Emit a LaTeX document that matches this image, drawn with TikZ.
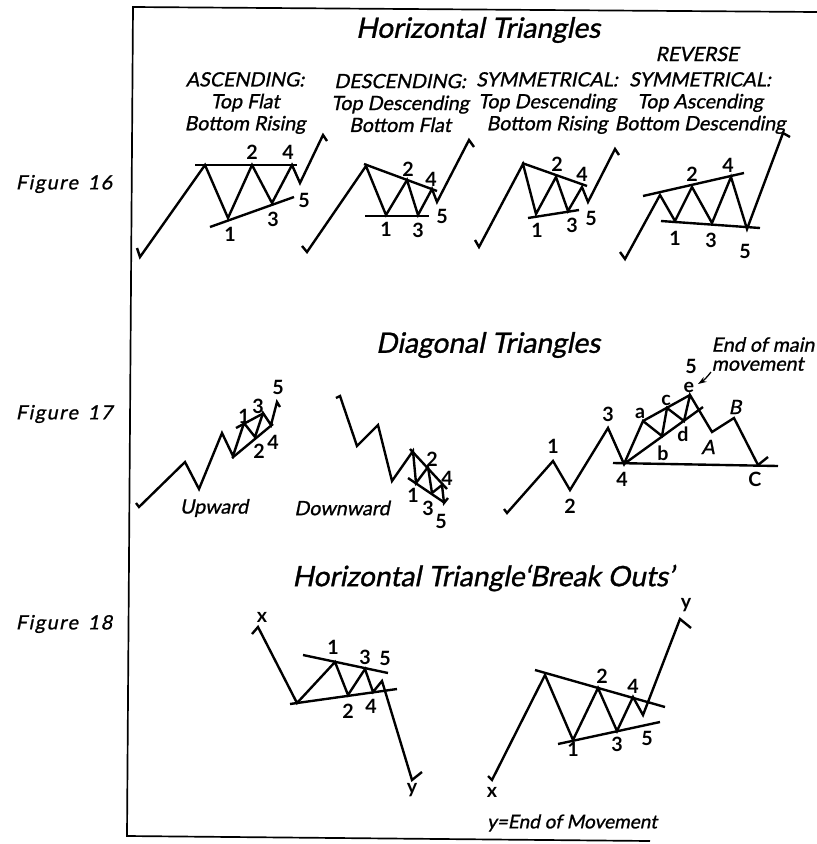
\documentclass[tikz,border=0pt]{standalone}
\usepackage{fontspec}
\newfontfamily\futfont[FakeSlant=0.2,FakeBold=1]{Lato}
\newfontfamily\labfont{Lato}
\newfontfamily\figfont[FakeSlant=0.2,FakeBold=1,LetterSpace=8]{Lato}
\usetikzlibrary{arrows.meta}

\tikzset{
  wave/.style={line width=1.7pt,line join=miter},
  trend/.style={line width=1.7pt},
  num/.style={font=\labfont\bfseries\fontsize{14}{14}\selectfont,inner sep=0pt},
  head/.style={font=\futfont\fontsize{14}{15.6}\selectfont,align=center,inner sep=0pt},
  title/.style={font=\futfont\fontsize{20}{20}\selectfont,inner sep=0pt},
  figlab/.style={font=\figfont\fontsize{14}{14}\selectfont,inner sep=0pt},
}

\begin{document}
\begin{tikzpicture}[x=0.025cm,y=-0.025cm,>=Stealth]
\useasboundingbox (0,0) rectangle (817,844);
\draw[line width=1.2pt] (817,12) -- (133,7) -- (127,836) -- (650,841);

\node[figlab] (f16) at (64,184) {Figure\enspace 16};
\node[figlab] (f17) at (64,414) {Figure\enspace 17};
\node[figlab] (f18) at (64,624) {Figure\enspace 18};

% figure 16
\node[title] (t16) at (478,30) {Horizontal Triangles};
\node[head] (h1) at (245,103) {ASCENDING:\\Top Flat\\Bottom Rising};
\node[head] (h2) at (400,103) {DESCENDING:\\Top Descending\\Bottom Flat};
\node[head] (h3) at (547,103) {SYMMETRICAL:\\Top Descending\\Bottom Rising};
\node[head] (h4a) at (697,54) {REVERSE};
\node[head] (h4) at (700,103) {SYMMETRICAL:\\Top Ascending\\Bottom Descending};

\draw[wave] (137,248) -- (140,257) -- (205,165) -- (228,218) -- (252,165) -- (272,203) -- (292,165) -- (300,183) -- (323,135) -- (327,141);
\draw[trend] (195,165) -- (297,165);
\draw[trend] (210,227) -- (294,197);
\node[num] (a1) at (230,234) {1}; \node[num] (a2) at (252,152) {2};
\node[num] (a3) at (273,219) {3}; \node[num] (a4) at (288,152) {4};
\node[num] (a5) at (304,200) {5};

\draw[wave] (302,246) -- (307,252) -- (366,166) -- (386,215) -- (407,180) -- (418,215) -- (432,189) -- (437,202) -- (469,140) -- (474,147);
\draw[trend] (364,164) -- (437,191);
\draw[trend] (365,216) -- (429,216);
\node[num] (d1) at (386,229) {1}; \node[num] (d2) at (408,169) {2};
\node[num] (d3) at (418,230) {3}; \node[num] (d4) at (431,179) {4};
\node[num] (d5) at (442,216) {5};

\draw[wave] (475,240) -- (479,247) -- (523,164) -- (536,214) -- (556,177) -- (568,211) -- (582,187) -- (588,202) -- (615,149) -- (619,155);
\draw[trend] (522,163) -- (587,186);
\draw[trend] (528,218) -- (579,210);
\node[num] (s1) at (537,230) {1}; \node[num] (s2) at (557,164) {2};
\node[num] (s3) at (572,225) {3}; \node[num] (s4) at (582,174) {4};
\node[num] (s5) at (591,218) {5};

\draw[wave] (620,252) -- (625,259) -- (660,195) -- (675,221) -- (692,187) -- (712,223) -- (731,177) -- (747,229) -- (783,133) -- (790,137);
\draw[trend] (643,196) -- (744,173);
\draw[trend] (661,221) -- (760,228);
\node[num] (r1) at (675,238) {1}; \node[num] (r2) at (692,174) {2};
\node[num] (r3) at (711,240) {3}; \node[num] (r4) at (728,165) {4};
\node[num] (r5) at (745,251) {5};

% figure 17
\node[title] (t17) at (488,345) {Diagonal Triangles};

\draw[wave] (136,503) -- (139,507) -- (185,462) -- (199,489) -- (222,433) -- (233,456) -- (244,423) -- (255,437) -- (263,413) -- (271,425) -- (277,402) -- (280,407);
\draw[trend] (236,428) -- (264,413);
\draw[trend] (232,458) -- (273,424);
\node[num] (u1) at (244,416) {1}; \node[num] (u3) at (258,406) {3};
\node[num] (u5) at (278,387) {5}; \node[num] (u2) at (259,451) {2};
\node[num] (u4) at (273,442) {4};
\node[head] (up) at (214,508) {Upward};

\draw[wave] (336,398) -- (340,396) -- (357,446) -- (378,425) -- (392,481) -- (413,451) -- (416,483) -- (428,467) -- (432,493) -- (442,485) -- (444,503) -- (448,498);
\draw[trend] (410,449) -- (447,489);
\draw[trend] (408,478) -- (445,503);
\node[num] (w2) at (432,459) {2}; \node[num] (w4) at (447,478) {4};
\node[num] (w1) at (413,495) {1}; \node[num] (w3) at (428,508) {3};
\node[num] (w5) at (441,521) {5};
\node[head] (down) at (342,508) {Downward};

\draw[wave] (504,509) -- (507,513) -- (553,461) -- (570,490) -- (608,428) -- (624,464) -- (643,421) -- (662,436) -- (667,408) -- (684,421) -- (690,395) -- (712,432) -- (734,418) -- (758,465) -- (768,457);
\draw[trend] (643,421) -- (690,395);
\draw[trend] (624,464) -- (703,407);
\draw[trend] (613,463) -- (778,466);
\node[num] (m1) at (553,446) {1}; \node[num] (m2) at (570,506) {2};
\node[num] (m3) at (608,414) {3}; \node[num] (m4) at (622,479) {4};
\node[num] (ma) at (640,413) {a}; \node[num] (mb) at (663,453) {b};
\node[num] (mc) at (666,400) {c}; \node[num] (md) at (683,434) {d};
\node[num] (me) at (689,387) {e}; \node[num] (m5) at (691,366) {5};
\node[num,font=\futfont\fontsize{14}{14}\selectfont] (mA) at (708,447) {A};
\node[num,font=\futfont\fontsize{14}{14}\selectfont] (mB) at (735,407) {B};
\node[num] (mC) at (755,479) {C};
\node[head,align=left,font=\futfont\fontsize{14}{13.5}\selectfont] (endnote) at (763,354) {End of main\\movement};
\coordinate (etip) at (698,384);
\draw[-{Stealth[length=6pt,width=4pt]},line width=0.9pt] (711,372) to[bend left=10] (etip);

% figure 18
\node[title] (t18) at (483,578) {Horizontal Triangle‘Break Outs’};

\draw[wave] (252,634) -- (258,627) -- (297,703) -- (335,662) -- (348,695) -- (365,669) -- (373,692) -- (382,681) -- (412,780) -- (422,772);
\draw[trend] (303,655) -- (388,673);
\draw[trend] (290,704) -- (397,689);
\node[num] (lx) at (262,617) {x}; \node[num] (ly) at (412,790) {y};
\node[num] (l1) at (333,647) {1}; \node[num] (l3) at (365,657) {3};
\node[num] (l5) at (385,658) {5}; \node[num] (l2) at (348,711) {2};
\node[num] (l4) at (371,706) {4};

\draw[wave] (488,776) -- (492,780) -- (545,675) -- (573,740) -- (598,688) -- (617,731) -- (633,697) -- (643,715) -- (680,619) -- (691,628);
\draw[trend] (535,670) -- (665,707);
\draw[trend] (558,744) -- (660,722);
\node[num] (k2) at (602,676) {2}; \node[num] (k4) at (633,686) {4};
\node[num] (k1) at (573,749) {1}; \node[num] (k3) at (617,744) {3};
\node[num] (k5) at (647,738) {5};
\node[num] (ky) at (686,605) {y}; \node[num] (kx) at (492,792) {x};
\node[head,font=\futfont\fontsize{13.5}{14}\selectfont] (yend) at (572,823) {y=End of Movement};
\end{tikzpicture}
\end{document}
